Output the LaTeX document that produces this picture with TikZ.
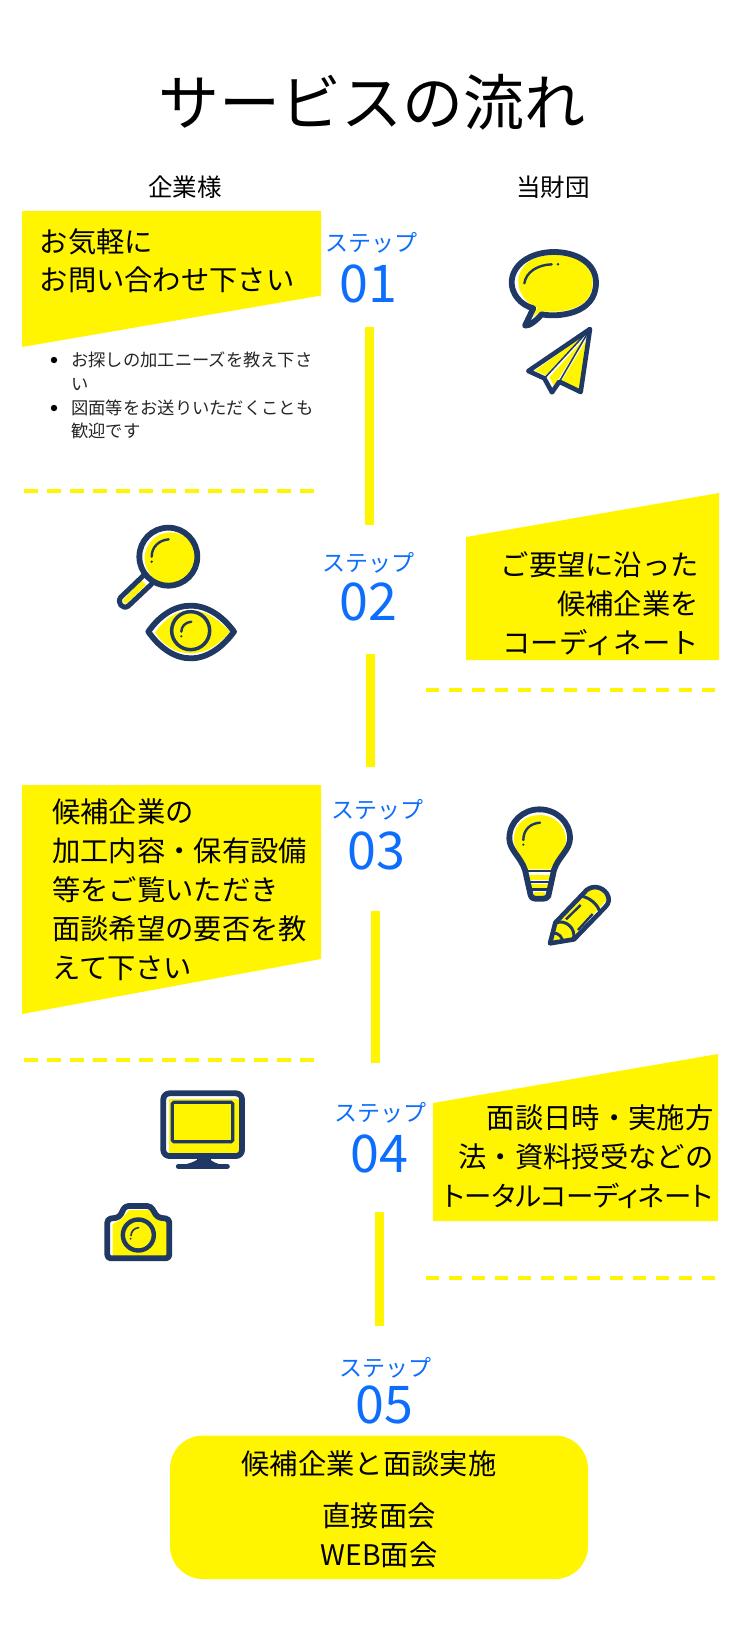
\documentclass[tikz,border=0pt]{standalone}
\usepackage{fontspec}
\setmainfont{Noto Sans CJK JP}
\newfontfamily\paltfont[RawFeature={+palt}]{Noto Sans CJK JP}
\definecolor{yel}{HTML}{FFF500}
\definecolor{navy}{HTML}{1F3864}
\definecolor{stepblue}{HTML}{0D6EFD}
\newcommand{\fs}[1]{\fontsize{#1pt}{#1pt}\selectfont}
\tikzset{
 band/.style={fill=yel,draw=none},
 bar/.style={fill=yel,draw=none},
 dashline/.style={draw=yel,line width=4pt,dash pattern=on 13.3pt off 9.7pt},
 boxtext/.style={inner sep=0pt,font=\fs{28.3},text=black,anchor=base west},
 boxtextr/.style={inner sep=0pt,font=\fs{28.3},text=black,anchor=base east},
 steplabel/.style={inner sep=0pt,font=\fs{23},text=stepblue,anchor=center},
 stepnum/.style={inner sep=0pt,font=\fs{52},text=stepblue,anchor=center},
 head/.style={inner sep=0pt,font=\fs{24.5},text=black,anchor=center},
 bullettext/.style={inner sep=0pt,font=\fs{17.3},text=black!85,anchor=base west},
 ic/.style={draw=navy,line width=5.8pt,line join=round,line cap=round},
 icthin/.style={draw=navy,line width=2.4pt,line cap=round},
 zoomed/.style={x=0.33333pt,y=-0.33333pt},
}
\begin{document}
\begin{tikzpicture}[x=1pt,y=-1pt]
\useasboundingbox (0,0) rectangle (740,1639);
\fill[white] (0,0) rectangle (740,1639);
\node[inner sep=0pt,font=\fs{61}] (title) at (372,102.5) {サービスの流れ};
\node[head] (h1) at (185,187) {企業様};
\node[head] (h2) at (553,187) {当財団};
% step 1
\fill[band] (22,211) -- (321,211) -- (321,295.5) -- (22,347) -- cycle;
\node[boxtext] (t1a) at (39.5,252) {お気軽に};
\node[boxtext] (t1b) at (39.5,290) {お問い合わせ下さい};
\fill[black] (54,360) circle (3.2pt);
\fill[black] (54,408) circle (3.2pt);
\node[bullettext] (b1) at (71,366) {お探しの加工ニーズを教え下さ};
\node[bullettext] (b2) at (71,390) {い};
\node[bullettext] (b3) at (71,414) {図面等をお送りいただくことも};
\node[bullettext] (b4) at (71,437) {歓迎です};
\node[steplabel] (s1) at (371,243) {ステップ};
\node[stepnum] (n1) at (368,284) {01};
\fill[bar] (365,327) rectangle (374,525);
\draw[dashline] (24.3,491) -- (314,491);
% step 2
\fill[band] (466,537) -- (719,493) -- (719,660) -- (466,660) -- cycle;
\node[boxtextr] (t2a) at (699,575) {ご要望に沿った};
\node[boxtextr] (t2b) at (699,614) {候補企業を};
\node[boxtextr] (t2c) at (699,653) {コーディネート};
\node[steplabel] (s2) at (368,563) {ステップ};
\node[stepnum] (n2) at (368,602) {02};
\fill[bar] (366,654) rectangle (375,767);
\draw[dashline] (426,689.5) -- (716,689.5);
% step 3
\fill[band] (22,785) -- (321,785) -- (321,959) -- (22,1014) -- cycle;
\node[boxtext] (t3a) at (52,822) {候補企業の};
\node[boxtext] (t3b) at (52,861) {加工内容・保有設備};
\node[boxtext] (t3c) at (52,900) {等をご覧いただき};
\node[boxtext] (t3d) at (52,939) {面談希望の要否を教};
\node[boxtext] (t3e) at (52,978) {えて下さい};
\node[steplabel] (s3) at (377,810) {ステップ};
\node[stepnum] (n3) at (376,851) {03};
\fill[bar] (371,911) rectangle (380,1063);
\draw[dashline] (24.3,1060) -- (314,1060);
% step 4
\fill[band] (433,1103) -- (718,1054) -- (718,1221) -- (433,1221) -- cycle;
\node[boxtextr] (t4a) at (713.5,1128) {面談日時・実施方};
\node[boxtextr] (t4b) at (713.5,1167) {法・資料授受などの};
\node[boxtextr,font=\paltfont\fs{27.4}] (t4c) at (713,1206.5) {トータルコーディネート};
\node[steplabel] (s4) at (380,1113) {ステップ};
\node[stepnum] (n4) at (379,1154) {04};
\fill[bar] (375,1212) rectangle (384,1326);
\draw[dashline] (426,1277.5) -- (716,1277.5);
% step 5
\node[steplabel] (s5) at (385,1368) {ステップ};
\node[stepnum] (n5) at (384.5,1405) {05};
\fill[yel,rounded corners=33pt] (170,1435.5) rectangle (588,1579);
\node[inner sep=0pt,font=\fs{28.3}] (t5a) at (369,1464) {候補企業と面談実施};
\node[inner sep=0pt,font=\fs{28.3}] (t5b) at (379,1515.5) {直接面会};
\node[inner sep=0pt,font=\fs{28.3}] (t5c) at (379,1555) {WEB面会};
% speech bubble + plane
\begin{scope}[shift={(480,230)},zoomed]
\fill[yel] (185,243) .. controls (230,250) and (338,245) .. (338,158) .. controls (338,105) and (290,75) .. (222,75) .. controls (160,75) and (115,105) .. (115,155) .. controls (115,190) and (140,222) .. (172,232) -- (160,260) -- cycle;
\draw[ic] (185,253) .. controls (230,262) and (348,255) .. (348,158) .. controls (348,100) and (290,66) .. (222,66) .. controls (150,66) and (95,105) .. (95,158) .. controls (95,190) and (120,225) .. (160,235) -- (135,287) .. controls (150,288) and (170,270) .. (185,253);
\draw[icthin] (133,160) .. controls (138,125) and (175,104) .. (215,103);
\fill[navy] (234,103) circle (1.4pt);
\fill[yel] (312,315) -- (165,422) -- (197,436) -- cycle;
\fill[yel] (316,322) -- (208,442) -- (222,467) -- cycle;
\fill[yel] (322,325) -- (245,452) -- (296,478) -- cycle;
\draw[ic,line width=4.6pt] (330,297) -- (145,423) -- (193,445) -- (216,487) -- (238,455) -- (302,486) -- cycle;
\draw[navy,line width=1.5pt] (330,297) -- (193,445);
\draw[navy,line width=1.5pt] (330,297) -- (238,455);
\end{scope}
% magnifier + eye
\begin{scope}[shift={(100,510)},zoomed]
\fill[white] (132,195) -- (62,262) -- (85,288) -- (155,222) -- cycle;
\fill[yel] (138,225) -- (78,282) -- (68,272) -- (125,210) -- cycle;
\draw[navy,line width=5pt,line cap=round,line join=round] (132,195) -- (62,262) .. controls (50,278) and (68,300) .. (85,288) -- (155,222);
\fill[yel] (212,145) circle (26pt);
\draw[ic] (205,140) circle (29pt);
\draw[icthin] (155,140) .. controls (155,110) and (178,90) .. (206,88);
\fill[navy] (155,155) circle (1.3pt);
\fill[yel] (165,368) .. controls (195,325) and (230,302) .. (272,300) .. controls (325,302) and (360,335) .. (390,365) .. controls (355,405) and (320,430) .. (272,430) .. controls (225,430) and (190,405) .. (165,368) -- cycle;
\draw[ic] (145,365) .. controls (180,315) and (225,287) .. (272,287) .. controls (320,287) and (365,315) .. (402,365) .. controls (365,415) and (320,445) .. (272,445) .. controls (225,445) and (180,415) .. (145,365) -- cycle;
\draw[navy,line width=3.5pt] (272,362) circle (19pt);
\draw[icthin] (244,365) .. controls (244,350) and (255,337) .. (274,335);
\fill[navy] (244,379) circle (1.2pt);
\end{scope}
% bulb + pencil
\begin{scope}[shift={(490,790)},zoomed]
\fill[yel] (108,238) .. controls (95,200) and (68,180) .. (72,140) .. controls (75,100) and (110,75) .. (148,75) .. controls (190,75) and (228,105) .. (228,150) .. controls (228,185) and (200,205) .. (188,238) -- cycle;
\fill[yel] (115,255) rectangle (182,270);
\fill[yel] (122,282) rectangle (175,293);
\fill[yel] (132,305) rectangle (165,317);
\draw[ic] (105,240) .. controls (92,200) and (58,180) .. (58,145) .. controls (58,95) and (100,58) .. (148,58) .. controls (198,58) and (240,95) .. (240,145) .. controls (240,180) and (205,200) .. (192,240) -- (175,318) .. controls (172,325) and (165,326) .. (160,326) -- (135,326) .. controls (128,326) and (124,322) .. (122,316) -- cycle;
\draw[navy,line width=2.5pt] (105,243) -- (192,243);
\draw[navy,line width=2.5pt] (112,276) -- (184,276);
\draw[navy,line width=2.5pt] (118,299) -- (178,299);
\draw[icthin] (100,150) .. controls (100,120) and (120,100) .. (150,98);
\fill[navy] (100,164) circle (1.2pt);
% pencil
\fill[yel] (185,458) -- (195,410) -- (300,300) .. controls (320,290) and (345,305) .. (350,330) -- (245,445) -- cycle;
\draw[ic,line width=4.6pt] (180,460) -- (196,398) -- (290,300) .. controls (310,285) and (335,290) .. (350,310) .. controls (360,325) and (358,340) .. (345,352) -- (252,448) -- cycle;
\draw[navy,line width=3pt] (272,318) .. controls (300,322) and (325,345) .. (330,368);
\draw[navy,line width=2.4pt] (272,345) -- (228,388);
\draw[navy,line width=2.4pt] (308,372) -- (264,420);
\draw[navy,line width=3pt] (196,400) .. controls (225,385) and (260,415) .. (250,448);
\draw[navy,line width=2.8pt] (187,430) .. controls (205,425) and (222,445) .. (216,458);
\end{scope}
% monitor + camera
\begin{scope}[shift={(90,1070)},zoomed]
\fill[yel] (238,88) rectangle (450,252);
\draw[ic,rounded corners=6pt] (220,70) rectangle (456,258);
\draw[navy,line width=3.2pt,rounded corners=1.5pt] (247,97) rectangle (428,215);
\fill[navy] (320,258) rectangle (362,285);
\draw[navy,line width=5pt,line cap=round] (265,289) -- (412,289);
\fill[navy] (320,270) .. controls (300,282) and (280,284) .. (265,286) -- (412,286) .. controls (390,284) and (375,280) .. (362,270) -- cycle;
\fill[yel] (68,462) -- (95,447) -- (118,420) -- (180,420) -- (203,448) -- (236,460) -- (236,562) -- (68,562) -- cycle;
\draw[ic,line join=round,rounded corners=3.5pt] (52,565) -- (52,447) -- (88,442) -- (105,408) -- (182,408) -- (202,442) -- (238,447) -- (238,565) -- cycle;
\draw[navy,line width=4.4pt] (145,495) circle (15.5pt);
\draw[icthin,line width=1.6pt] (123,497) .. controls (123,485) and (132,474) .. (146,473);
\fill[navy] (122,506) circle (1pt);
\end{scope}
\end{tikzpicture}
\end{document}
